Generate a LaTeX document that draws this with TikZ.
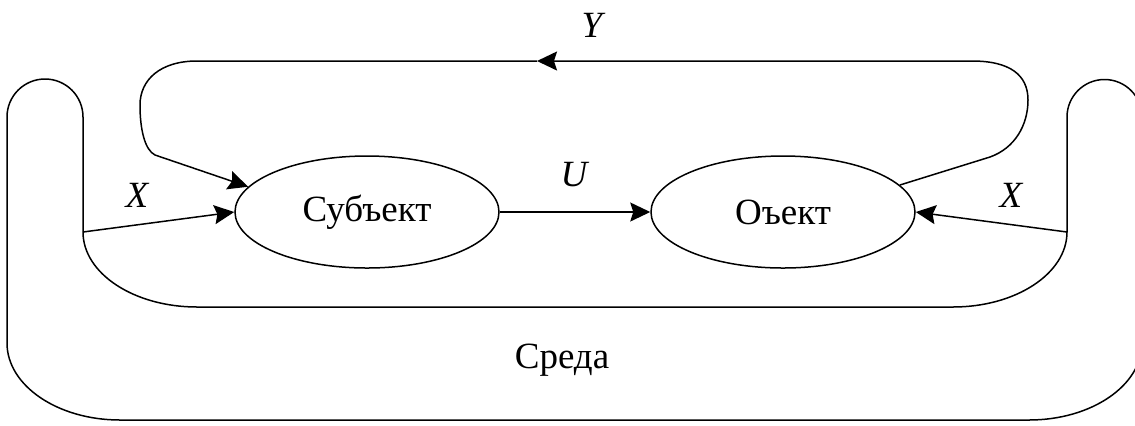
\documentclass[tikz,border=0pt]{standalone}
\usepackage{fontspec}
\setmainfont{Liberation Serif}
\usetikzlibrary{shapes.geometric,arrows.meta}

\begin{document}
\begin{tikzpicture}[x=.5pt,y=-.5pt,line width=.75pt,font=\fontsize{18.5pt}{20pt}\selectfont,
	>={Stealth[length=10pt,width=9.5pt,inset=1.5pt]},
	blk/.style={ellipse,draw,minimum width=132pt,minimum height=56pt,inner sep=0pt},
	lbl/.style={anchor=base,font=\fontsize{18.5pt}{20pt}\selectfont\itshape}]
	\useasboundingbox (0,0) rectangle (1135,425);
	\clip (0,0) rectangle (1135,425);
	% среда
	\draw
	(83,117)--(83,232) arc[start angle=180,end angle=90,x radius=114,y radius=75]
	--(953,307) arc[start angle=90,end angle=0,x radius=114,y radius=75]
	--(1067,117) arc[start angle=180,end angle=360,radius=37.5]
	--(1142,343) arc[start angle=0,end angle=90,x radius=113,y radius=77]
	--(120,420) arc[start angle=90,end angle=180,x radius=113,y radius=77]
	--(7,117) arc[start angle=180,end angle=360,radius=38]
	--cycle;
	\coordinate (XL) at (83,232);
	\coordinate (XR) at (1067,232);
	\coordinate (M) at (537,61);
	\path
	(367,212) node[blk] (S) {Субъект}
	(783,212) node[blk] (O) {Оъект}
	(137,207) node[lbl] (xl) {X}
	(1011,207) node[lbl] (xr) {X}
	(574,186) node[lbl] (u) {U}
	(592,37) node[lbl] (y) {Y}
	(562,368) node[anchor=base] (env) {Среда}
	;
	\draw[->] (XL)--(S.west);
	\draw[->] (XR)--(O.east);
	\draw[->] (S.east)--(O.west);
	% обратная связь
	\draw[->] (O.13)--(990,157) .. controls (1015,148) and (1028,125) .. (1028,100)
	.. controls (1028,75) and (1010,61) .. (972,61)--(M);
	\draw[->] (M)--(197,61) .. controls (160,61) and (140,80) .. (140,105)
	.. controls (140,130) and (145,150) .. (155,155)--(S.168);
\end{tikzpicture}
\end{document}
